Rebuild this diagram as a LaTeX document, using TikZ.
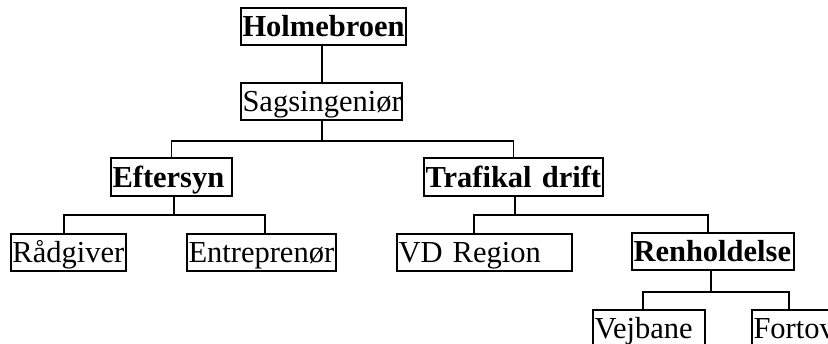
\documentclass[tikz,border=0pt]{standalone}
\usepackage{fontspec}
\setmainfont{Liberation Serif}
\begin{document}
\begin{tikzpicture}[x=1pt,y=1pt,
  orgbox/.style={draw,line width=1.6pt,inner xsep=1.5pt,inner ysep=0pt,text height=29pt,text depth=8pt,align=left,font=\fontsize{30.5}{36}\selectfont},
  bx/.style={orgbox,font=\fontsize{30.5}{36}\selectfont\bfseries},
  conn/.style={line width=1.2pt}]
\useasboundingbox (0,0) rectangle (828,-344);
\node[bx,text width=162pt] (hol) at (323.5,-26.5) {Holmebroen};
\node[orgbox,text width=158pt] (sag) at (321.5,-101.5) {Sagsingeniør};
\node[bx,text width=118pt,text height=30pt] (eft) at (171.5,-177) {Eftersyn};
\node[bx,text width=176pt,text height=30pt] (tra) at (513.5,-177) {Trafikal drift};
\node[orgbox,text width=112pt] (rad) at (68.5,-252.5) {Rådgiver};
\node[orgbox,text width=146pt] (ent) at (261.5,-252.5) {Entreprenør};
\node[orgbox,text width=172pt] (vd) at (484.5,-252.5) {VD Region};
\node[bx,text width=159pt] (ren) at (713,-251.5) {Renholdelse};
\node[orgbox,text width=109pt] (vej) at (649,-328.5) {Vejbane};
\node[orgbox,text width=114pt] (fort) at (810.5,-328.5) {Fortov};
\coordinate (j1) at (322,-141);
\coordinate (j2) at (174,-215);
\coordinate (j3) at (515,-215);
\coordinate (j4) at (711,-292);
\draw[conn] (hol.south -| 322,0) -- (sag.north -| 322,0);
\draw[conn] (sag.south -| j1) -- (j1);
\draw[conn] (eft.north) |- (j1) -| (tra.north);
\draw[conn] (eft.south -| j2) -- (j2);
\draw[conn] ([xshift=-4.5pt]rad.north) |- (j2) -| ([xshift=3.5pt]ent.north);
\draw[conn] (tra.south -| j3) -- (j3);
\draw[conn] ([xshift=-10.5pt]vd.north) |- (j3) -| ([xshift=-5pt]ren.north);
\draw[conn] (ren.south -| j4) -- (j4);
\draw[conn] ([xshift=-6pt]vej.north) |- (j4) -| ([xshift=-21.5pt]fort.north);
\end{tikzpicture}
\end{document}
